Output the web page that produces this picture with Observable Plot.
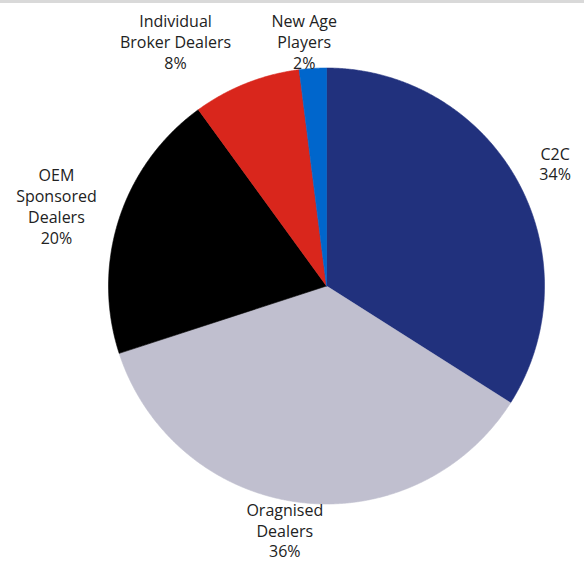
<!DOCTYPE html>
<html>
<head>
<meta charset="utf-8">
<script src="https://cdn.jsdelivr.net/npm/d3@7"></script>
<script src="https://cdn.jsdelivr.net/npm/@observablehq/plot@0.6"></script>
<style>
  html, body { margin: 0; padding: 0; background: #fff; }
  #wrap { position: relative; width: 584px; height: 561px; }
  #band { position: absolute; left: 0; top: 0; width: 584px; height: 3px; background: #d9d9d9; }
</style>
</head>
<body>
<div id="wrap"><div id="band"></div></div>
<script>
// ---- data ----
const categories = ["C2C", "Oragnised Dealers", "OEM Sponsored Dealers", "Individual Broker Dealers", "New Age Players"];
const shares = [34, 36, 20, 8, 2];
const labelLines = [
  ["C2C", "34%"],
  ["Oragnised", "Dealers", "36%"],
  ["OEM", "Sponsored", "Dealers", "20%"],
  ["Individual", "Broker Dealers", "8%"],
  ["New Age", "Players", "2%"]
];

// ---- style ----
const colours = ["#21317d", "#c0bfcf", "#000000", "#d9261c", "#0066cc"];
const labelRadius = [1.19, 1.135, 1.292, 1.318, 1.127];
const labelNudgeDeg = [0.6, 2.5, -1.5, -10.1, -1.6];

const W = 584, H = 561, R = 218, CX = 326, CY = 285.5;

const arcs = d3.pie().sort(null).value(d => d)(shares);
const slices = [];
arcs.forEach((a, i) => {
  const key = categories[i];
  slices.push({key, x: 0, y: 0});
  const n = Math.max(2, Math.ceil((a.endAngle - a.startAngle) / (Math.PI / 720)));
  for (let k = 0; k <= n; k++) {
    const t = a.startAngle + (a.endAngle - a.startAngle) * k / n;
    slices.push({key, x: Math.sin(t), y: Math.cos(t)});
  }
  slices.push({key, x: 0, y: 0});
});

const labels = arcs.map((a, i) => {
  const t = (a.startAngle + a.endAngle) / 2 + labelNudgeDeg[i] * Math.PI / 180;
  return {key: categories[i], text: labelLines[i].join("\n"), x: labelRadius[i] * Math.sin(t), y: labelRadius[i] * Math.cos(t)};
});

const chart = Plot.plot({
  width: W,
  height: H,
  margin: 0,
  style: {fontFamily: "'Open Sans', sans-serif", background: "transparent"},
  x: {domain: [-CX / R, (W - CX) / R], axis: null},
  y: {domain: [-(H - CY) / R, CY / R], axis: null},
  color: {domain: categories, range: colours},
  marks: [
    Plot.line(slices, {x: "x", y: "y", z: "key", fill: "key", stroke: "key", strokeWidth: 0.6, curve: "linear"}),
    Plot.text(labels, {x: "x", y: "y", text: "text", fontSize: 16, lineHeight: 1.3, fill: "#222222", textAnchor: "middle", lineAnchor: "middle"})
  ]
});
chart.style.position = "absolute";
chart.style.left = "0";
chart.style.top = "0";
document.getElementById("wrap").prepend(chart);
</script>
</body>
</html>
